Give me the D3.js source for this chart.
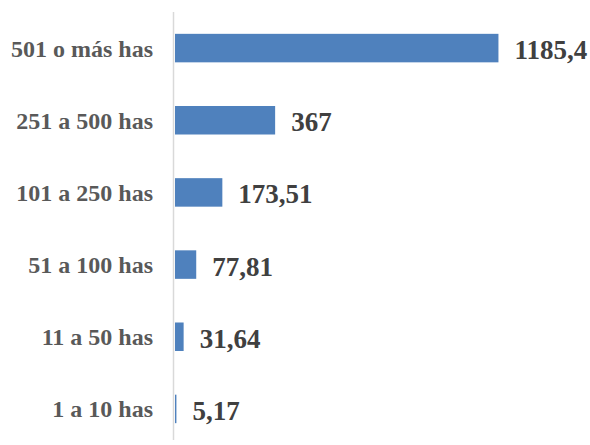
<!DOCTYPE html>
<html>
<head>
<meta charset="utf-8">
<script src="https://cdn.jsdelivr.net/npm/d3@7"></script>
<style>
  html, body { margin: 0; padding: 0; background: #ffffff; }
  svg { display: block; }
</style>
</head>
<body>
<svg id="chart" width="590" height="445"></svg>
<script>
// Farm size classes (top to bottom) and their values
const categories = ["501 o más has", "251 a 500 has", "101 a 250 has", "51 a 100 has", "11 a 50 has", "1 a 10 has"];
const values = [1185.4, 367, 173.51, 77.81, 31.64, 5.17];
const valueLabels = ["1185,4", "367", "173,51", "77,81", "31,64", "5,17"];

const svg = d3.select("#chart");
const fontFamily = "'Liberation Serif', 'Times New Roman', serif";

const x = d3.scaleLinear().domain([0, 1400]).range([175, 557]);
const y = d3.scaleBand()
  .domain(categories)
  .range([12, 445])
  .paddingInner(0.605)
  .paddingOuter(0.3025);

const rows = categories.map((c, i) => ({ cat: c, val: values[i], label: valueLabels[i] }));

// vertical category axis line
svg.append("line")
  .attr("x1", 173.5).attr("x2", 173.5)
  .attr("y1", 12).attr("y2", 440)
  .attr("stroke", "#d9d9d9")
  .attr("stroke-width", 1.5);

// bars
svg.selectAll("rect.bar")
  .data(rows)
  .join("rect")
  .attr("class", "bar")
  .attr("x", x(0))
  .attr("y", d => y(d.cat))
  .attr("width", d => x(d.val) - x(0))
  .attr("height", y.bandwidth())
  .attr("fill", "#4f81bd");

// category labels
svg.selectAll("text.cat")
  .data(rows)
  .join("text")
  .attr("class", "cat")
  .attr("x", 153)
  .attr("y", d => y(d.cat) + y.bandwidth() / 2 + 8.5)
  .attr("text-anchor", "end")
  .attr("font-family", fontFamily)
  .attr("font-weight", "bold")
  .attr("font-size", 24)
  .attr("fill", "#595959")
  .text(d => d.cat);

// value labels
svg.selectAll("text.val")
  .data(rows)
  .join("text")
  .attr("class", "val")
  .attr("x", d => x(d.val) + 16)
  .attr("y", d => y(d.cat) + y.bandwidth() / 2 + 11)
  .attr("text-anchor", "start")
  .attr("font-family", fontFamily)
  .attr("font-weight", "bold")
  .attr("font-size", 27)
  .attr("fill", "#404040")
  .text(d => d.label);
</script>
</body>
</html>
